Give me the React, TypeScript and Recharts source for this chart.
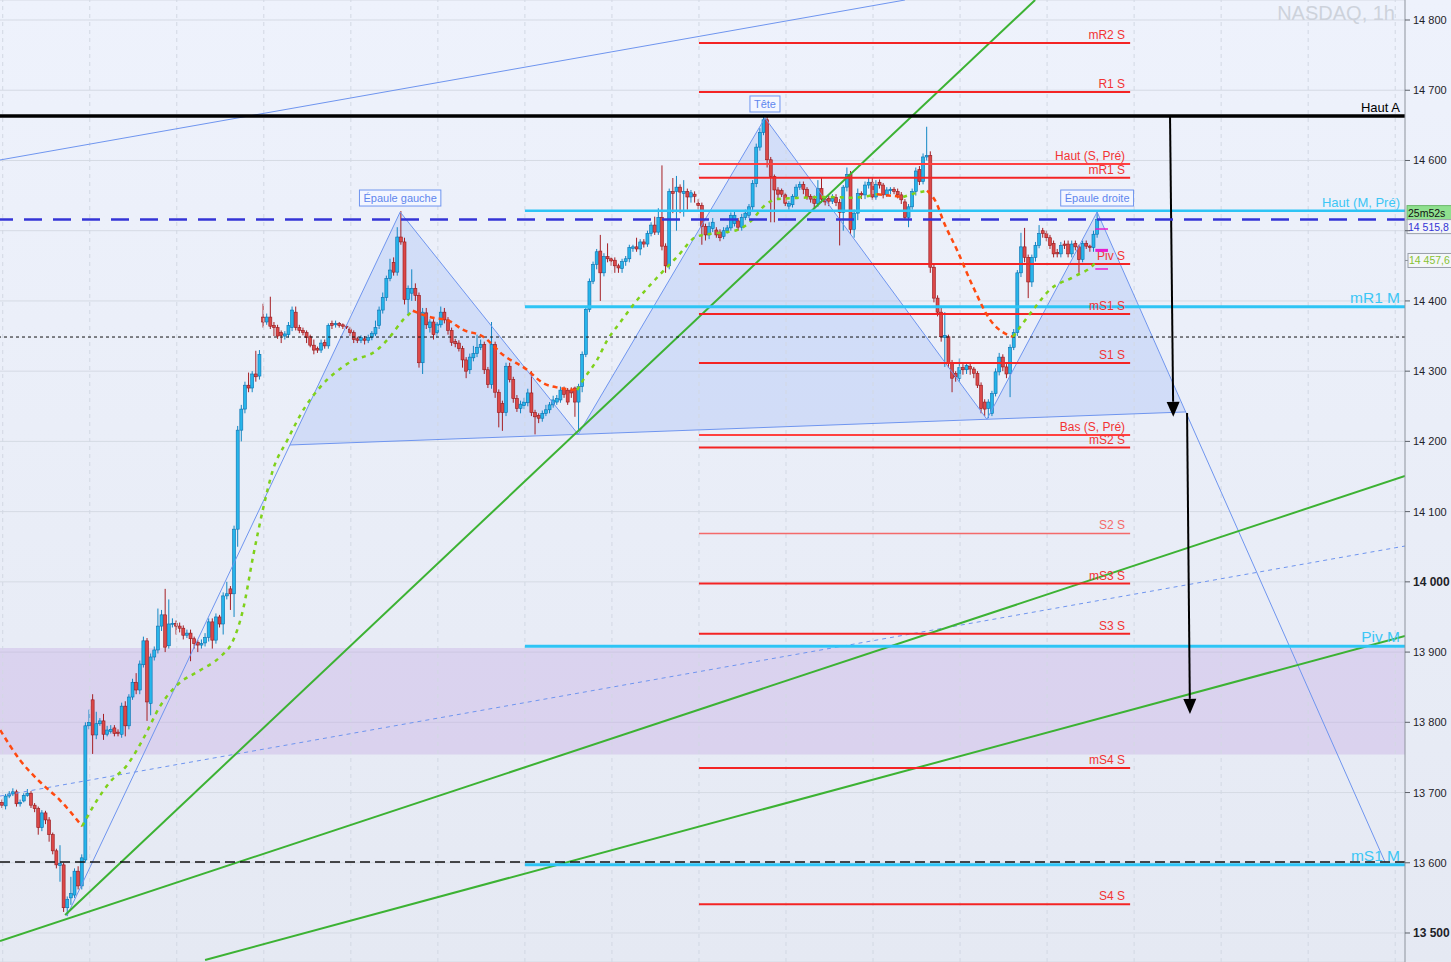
import React from "react";
import {
  ComposedChart,
  Bar,
  Line,
  Area,
  XAxis,
  YAxis,
  CartesianGrid,
  ReferenceLine,
  ReferenceArea,
  ReferenceDot,
} from "recharts";

// NASDAQ 1h candles, [open, high, low, close]
const candlesA = [
  [13686, 13690, 13678, 13682], [13681, 13698, 13676, 13695], [13695, 13702, 13692, 13698],
  [13698, 13706, 13695, 13701], [13701, 13704, 13680, 13684], [13684, 13690, 13680, 13686],
  [13688, 13699, 13686, 13696], [13696, 13705, 13694, 13699], [13699, 13702, 13678, 13682],
  [13682, 13685, 13672, 13677], [13677, 13680, 13640, 13650], [13650, 13675, 13645, 13671],
  [13671, 13674, 13655, 13661], [13661, 13665, 13630, 13640], [13640, 13643, 13612, 13617],
  [13617, 13620, 13592, 13597], [13596, 13625, 13573, 13599], [13597, 13600, 13530, 13536],
  [13536, 13552, 13524, 13548], [13550, 13580, 13540, 13556], [13554, 13592, 13550, 13588],
  [13588, 13595, 13562, 13567], [13567, 13612, 13562, 13607], [13604, 13800, 13600, 13795],
  [13795, 13818, 13790, 13800], [13832, 13840, 13755, 13782], [13782, 13815, 13776, 13798],
  [13798, 13806, 13795, 13802], [13802, 13812, 13775, 13783], [13783, 13795, 13780, 13789],
  [13787, 13796, 13784, 13790], [13792, 13796, 13780, 13784], [13786, 13790, 13780, 13784],
  [13783, 13828, 13778, 13823], [13823, 13830, 13780, 13795], [13795, 13840, 13790, 13836],
  [13836, 13862, 13832, 13857], [13857, 13870, 13840, 13846], [13846, 13888, 13840, 13883],
  [13882, 13922, 13878, 13916], [13916, 13920, 13802, 13829], [13827, 13898, 13810, 13893],
  [13893, 13908, 13888, 13903], [13903, 13962, 13898, 13937], [13937, 13960, 13930, 13953],
  [13953, 13990, 13900, 13907], [13909, 13975, 13905, 13940], [13940, 13948, 13935, 13941],
  [13941, 13945, 13925, 13937], [13937, 13942, 13928, 13934], [13934, 13938, 13918, 13924],
  [13924, 13932, 13920, 13927], [13927, 13932, 13887, 13919], [13919, 13922, 13905, 13912],
  [13914, 13917, 13900, 13910], [13910, 13918, 13905, 13912], [13913, 13927, 13908, 13921],
  [13921, 13948, 13915, 13943], [13943, 13948, 13905, 13917], [13917, 13955, 13912, 13950],
  [13950, 13953, 13935, 13940], [13940, 13985, 13925, 13980], [13980, 14000, 13975, 13983],
  [13990, 13994, 13960, 13983], [13983, 14080, 13950, 14075], [14075, 14222, 14050, 14216],
  [14216, 14252, 14200, 14246], [14246, 14285, 14240, 14280], [14280, 14298, 14270, 14276],
  [14276, 14300, 14270, 14296], [14296, 14329, 14285, 14292], [14293, 14330, 14288, 14324],
];

const candlesB = [
  [14377, 14396, 14362, 14370], [14370, 14382, 14366, 14377], [14377, 14406, 14360, 14364],
  [14365, 14370, 14350, 14362], [14362, 14366, 14346, 14350], [14355, 14358, 14340, 14351],
  [14350, 14357, 14345, 14353], [14352, 14370, 14348, 14365], [14362, 14392, 14357, 14387],
  [14384, 14392, 14358, 14362], [14362, 14366, 14354, 14358], [14358, 14362, 14351, 14355],
  [14355, 14358, 14340, 14348], [14349, 14352, 14334, 14337], [14337, 14345, 14324, 14330],
  [14332, 14335, 14326, 14330], [14330, 14345, 14326, 14340], [14341, 14345, 14332, 14336],
  [14336, 14368, 14332, 14365], [14368, 14372, 14360, 14365], [14366, 14372, 14362, 14368],
  [14368, 14370, 14362, 14365], [14366, 14368, 14360, 14364], [14364, 14366, 14360, 14363],
  [14360, 14363, 14350, 14355], [14355, 14358, 14340, 14345], [14346, 14349, 14340, 14344],
  [14344, 14351, 14340, 14348], [14346, 14350, 14338, 14344], [14344, 14352, 14340, 14348],
  [14348, 14357, 14344, 14354], [14353, 14372, 14350, 14362], [14365, 14392, 14360, 14387],
  [14387, 14412, 14382, 14405], [14405, 14436, 14400, 14432], [14432, 14460, 14428, 14444],
  [14455, 14462, 14436, 14441], [14441, 14505, 14436, 14491], [14491, 14528, 14480, 14484],
  [14484, 14490, 14395, 14402], [14402, 14422, 14380, 14418], [14411, 14445, 14400, 14418],
  [14418, 14425, 14400, 14408], [14408, 14412, 14305, 14312], [14312, 14390, 14296, 14384],
  [14383, 14390, 14360, 14366], [14362, 14374, 14355, 14370], [14370, 14374, 14345, 14352],
  [14355, 14370, 14348, 14367], [14366, 14392, 14362, 14384], [14384, 14390, 14368, 14373],
  [14373, 14377, 14352, 14358], [14358, 14362, 14336, 14341], [14342, 14346, 14334, 14339],
  [14340, 14344, 14328, 14332], [14332, 14336, 14305, 14316], [14316, 14320, 14290, 14300],
  [14302, 14325, 14296, 14320], [14319, 14336, 14314, 14325], [14325, 14352, 14320, 14334],
  [14334, 14345, 14330, 14338], [14338, 14342, 14296, 14302], [14302, 14306, 14276, 14281],
  [14281, 14370, 14275, 14338], [14338, 14342, 14262, 14270], [14270, 14274, 14220, 14241],
  [14254, 14258, 14215, 14241], [14241, 14312, 14236, 14307], [14307, 14312, 14284, 14288],
  [14288, 14292, 14255, 14261], [14261, 14266, 14242, 14247], [14247, 14258, 14240, 14253],
  [14251, 14262, 14246, 14256], [14255, 14275, 14250, 14269], [14269, 14300, 14236, 14241],
  [14241, 14245, 14210, 14235], [14237, 14240, 14226, 14233], [14233, 14244, 14228, 14240],
  [14240, 14252, 14236, 14245], [14245, 14256, 14240, 14252], [14252, 14265, 14248, 14259],
  [14256, 14266, 14252, 14261], [14259, 14278, 14255, 14273], [14274, 14278, 14262, 14267],
  [14273, 14276, 14252, 14256], [14273, 14277, 14262, 14269], [14276, 14278, 14235, 14256],
  [14256, 14282, 14214, 14278], [14278, 14328, 14270, 14324], [14324, 14392, 14320, 14388],
  [14388, 14432, 14384, 14428], [14428, 14456, 14424, 14452], [14452, 14474, 14445, 14470],
  [14471, 14494, 14400, 14440], [14440, 14468, 14435, 14463], [14463, 14482, 14455, 14460],
  [14460, 14462, 14450, 14457], [14458, 14462, 14440, 14450], [14450, 14453, 14440, 14447],
  [14446, 14460, 14440, 14456], [14456, 14464, 14450, 14460], [14460, 14480, 14455, 14476],
  [14475, 14480, 14470, 14477], [14477, 14490, 14470, 14474], [14474, 14488, 14465, 14484],
  [14484, 14488, 14476, 14481], [14481, 14500, 14477, 14496], [14496, 14512, 14492, 14508],
  [14508, 14520, 14494, 14498], [14498, 14532, 14494, 14519], [14519, 14593, 14472, 14478],
  [14478, 14482, 14440, 14450], [14450, 14560, 14445, 14556], [14556, 14575, 14525, 14553],
  [14556, 14578, 14500, 14562], [14562, 14566, 14525, 14555], [14553, 14572, 14520, 14556],
  [14556, 14560, 14530, 14548], [14548, 14558, 14540, 14554], [14552, 14556, 14540, 14549],
  [14539, 14545, 14530, 14536], [14536, 14540, 14480, 14506], [14506, 14510, 14486, 14494],
  [14494, 14512, 14488, 14506], [14503, 14518, 14498, 14512], [14501, 14505, 14490, 14494],
  [14498, 14502, 14485, 14490], [14492, 14505, 14488, 14500], [14500, 14508, 14496, 14504],
  [14504, 14526, 14500, 14522], [14510, 14528, 14506, 14522], [14514, 14518, 14500, 14505],
  [14505, 14524, 14500, 14519], [14519, 14530, 14515, 14525], [14522, 14538, 14518, 14534],
  [14534, 14572, 14528, 14567], [14567, 14624, 14562, 14619], [14619, 14646, 14614, 14640],
  [14640, 14665, 14636, 14658], [14658, 14662, 14590, 14601], [14601, 14605, 14512, 14577],
  [14577, 14580, 14512, 14558], [14558, 14562, 14546, 14552], [14557, 14560, 14548, 14552],
  [14551, 14554, 14535, 14539], [14535, 14542, 14530, 14539], [14537, 14552, 14533, 14549],
  [14549, 14566, 14545, 14562], [14562, 14570, 14558, 14566], [14566, 14570, 14552, 14559],
  [14559, 14562, 14544, 14548], [14549, 14552, 14540, 14545], [14545, 14550, 14532, 14539],
  [14539, 14572, 14534, 14560], [14560, 14576, 14540, 14545], [14545, 14549, 14536, 14541],
  [14546, 14550, 14535, 14542], [14542, 14552, 14538, 14546], [14547, 14552, 14535, 14540],
  [14540, 14545, 14479, 14526], [14526, 14565, 14500, 14562], [14562, 14590, 14556, 14580],
  [14580, 14585, 14495, 14502], [14502, 14530, 14490, 14525], [14525, 14560, 14515, 14553],
  [14553, 14556, 14545, 14551], [14551, 14570, 14545, 14565], [14565, 14575, 14560, 14569],
  [14569, 14575, 14544, 14548], [14548, 14572, 14544, 14566], [14569, 14573, 14560, 14565],
  [14565, 14568, 14546, 14551], [14551, 14562, 14548, 14558], [14557, 14562, 14552, 14559],
  [14559, 14562, 14552, 14556], [14556, 14560, 14546, 14551], [14551, 14555, 14538, 14544],
  [14541, 14545, 14515, 14519], [14519, 14538, 14505, 14534], [14534, 14560, 14530, 14556],
  [14556, 14590, 14550, 14585], [14587, 14592, 14565, 14570], [14570, 14610, 14566, 14605],
  [14605, 14648, 14600, 14607], [14607, 14613, 14440, 14448], [14448, 14452, 14398, 14404],
  [14404, 14408, 14378, 14384], [14384, 14390, 14342, 14349], [14348, 14384, 14306, 14351],
  [14349, 14352, 14305, 14312], [14312, 14316, 14270, 14290], [14297, 14300, 14285, 14292],
  [14290, 14318, 14285, 14305], [14305, 14310, 14295, 14302], [14302, 14312, 14296, 14308],
  [14307, 14312, 14295, 14303], [14303, 14306, 14290, 14297], [14297, 14300, 14276, 14280],
  [14280, 14284, 14240, 14247], [14256, 14260, 14236, 14246], [14247, 14260, 14233, 14256],
  [14240, 14272, 14236, 14268], [14268, 14304, 14264, 14299], [14299, 14326, 14294, 14320],
  [14320, 14324, 14300, 14306], [14306, 14310, 14290, 14296], [14297, 14338, 14263, 14334],
  [14334, 14360, 14330, 14355], [14355, 14444, 14350, 14440], [14440, 14497, 14434, 14477],
  [14477, 14504, 14455, 14462], [14462, 14466, 14404, 14427], [14427, 14466, 14420, 14462],
  [14462, 14484, 14456, 14479], [14479, 14508, 14475, 14496], [14500, 14504, 14490, 14496],
  [14496, 14500, 14485, 14490], [14490, 14494, 14474, 14479], [14482, 14486, 14462, 14467],
  [14469, 14474, 14462, 14467], [14467, 14484, 14462, 14479], [14481, 14486, 14474, 14479],
  [14481, 14486, 14462, 14467], [14467, 14486, 14462, 14481], [14482, 14486, 14472, 14477],
  [14477, 14480, 14440, 14459], [14459, 14486, 14455, 14482], [14482, 14486, 14474, 14478],
  [14478, 14480, 14470, 14476], [14476, 14500, 14470, 14495], [14495, 14528, 14490, 14515.8],
];

// moving average, split by direction (falling = red dashes, rising = green dots)
const maFalling = [
  [[-0.5, 13789], [5, 13746], [10.5, 13715], [16, 13689], [22.1, 13652]],
  [[113.3, 14386], [118.9, 14376], [122.7, 14373], [127.1, 14359], [132.7, 14349], [138.2, 14323],
    [144.8, 14302], [149.2, 14283], [153.9, 14276], [158.6, 14273]],
  [[241.3, 14552], [248.5, 14548]],
  [[255.1, 14557], [257.9, 14537], [259.5, 14515], [263.4, 14472], [267.8, 14420], [272.5, 14373],
    [277.2, 14352], [278.8, 14349]],
];
const maRising = [
  [[22.1, 13652], [26.2, 13689], [29.8, 13715], [34.5, 13739], [38.9, 13776], [43.6, 13823],
    [48.3, 13853], [54.6, 13874], [60.1, 13893], [63.7, 13916], [66.5, 13961], [69.2, 14035],
    [72, 14104], [74.7, 14159], [78.6, 14201], [83.6, 14249], [87.7, 14277], [96, 14313],
    [103.4, 14330], [107, 14349], [110.6, 14373], [113.3, 14386]],
  [[158.6, 14273], [160.2, 14287], [164.1, 14316], [166.9, 14344], [170.4, 14369], [175.1, 14401],
    [180.6, 14433], [186.2, 14463], [191.7, 14492], [198, 14497], [202.7, 14501], [206.8, 14515],
    [209.9, 14534], [213.7, 14545], [220.9, 14547], [227.5, 14548], [234.7, 14547], [241.3, 14552]],
  [[248.5, 14548], [252.3, 14554], [255.1, 14557]],
  [[278.8, 14349], [284.3, 14387], [289, 14416], [295.4, 14434], [300.9, 14451], [302, 14457.6]],
];

// head & shoulders pivots [bar, price]
const hsPivots = [
  [79.4, 14194.9], [109.8, 14526.6], [158.9, 14210], [210.4, 14660.5],
  [271.6, 14231.5], [302, 14526.6], [326.3, 14241.9],
];
const hsLabels = [
  ["Épaule gauche", 109.8, 14526.6],
  ["Tête", 210.4, 14660.5],
  ["Épaule droite", 302, 14526.6],
];
const patternLines = [
  [[17.9, 13524.2], [109.8, 14526.6]],
  [[109.8, 14526.6], [158.9, 14210]],
  [[158.9, 14210], [210.4, 14660.5]],
  [[210.4, 14660.5], [271.6, 14231.5]],
  [[271.6, 14231.5], [302, 14526.6]],
  [[302, 14526.6], [381.4, 13601]],
  [[79.4, 14194.9], [326.3, 14241.9]],
  [[-0.55, 14600.7], [249, 14828.5]],
];
const dottedTrend = [[-0.55, 13695], [386.9, 14051]];
const greenTrends = [
  [[17.4, 13525.6], [284.9, 14828.5]],
  [[-0.55, 13488.6], [386.9, 14150.7]],
  [[56, 13461.6], [386.9, 13922.9]],
];
const targetArrows = [
  [[322.1, 14663.3], [323, 14235]],
  [[326.8, 14240.5], [327.6, 13812]],
];

const weeklyLevels = [
  ["mR2 S", 14767.3], ["R1 S", 14697.5], ["Haut (S, Pré)", 14595], ["mR1 S", 14575.5],
  ["Piv S", 14452.6], ["mS1 S", 14381.4], ["S1 S", 14311.6], ["Bas (S, Pré)", 14209],
  ["mS2 S", 14191.3], ["S2 S", 14068.9], ["mS3 S", 13997.5], ["S3 S", 13926],
  ["mS4 S", 13734.8], ["S4 S", 13540.9],
];
const monthlyLevels = [
  ["Haut (M, Pré)", 14528.5], ["mR1 M", 14391.6], ["Piv M", 13908.2], ["mS1 M", 13597],
];
const highA = 14663.5;
const lastPrice = 14515.8;
const maLast = 14457.6;
const countdown = "25m52s";
const dottedLevel = 14348.6;
const dashedLevel = 13601.1;
const zone = [13754.2, 13905.8];
const quoteMarks = [14502.4, 14472, 14445.5];

const priceTicks = [13500, 13600, 13700, 13800, 13900, 14000, 14100, 14200, 14300, 14400, 14500, 14600, 14700, 14800];
const dayBreaks = [0.2, 24.2, 48.2, 72.2, 96.2, 120.2, 144.2, 168.2, 192.2, 216.2, 240.2, 264.2, 288.2, 312.2, 336.2, 360.2, 384.2];
const weekFrom = 192.2;
const weekTo = 311.1;
const monthFrom = 144.2;
const X_DOMAIN = [-0.55, 386.9];
const Y_DOMAIN = [13458.7, 14828.5];

const FONT = "'Liberation Sans', Arial, sans-serif";

const candles = [...candlesA, ...candlesB].map(([o, h, l, c], i) => ({ i, o, h, l, c }));

const neckA = hsPivots[0];
const neckB = hsPivots[hsPivots.length - 1];
const neckAt = (i: number) => neckA[1] + ((i - neckA[0]) * (neckB[1] - neckA[1])) / (neckB[0] - neckA[0]);
const hsBand = hsPivots.map(([i, p], k) => ({ i, band: k % 2 === 0 ? [p, p] : [neckAt(i), p] }));

const fmtPrice = (v: number) => String(v).replace(/\B(?=(\d{3})+(?!\d))/g, " ");
const fmtQuote = (v: number) => v.toFixed(1).replace(".", ",").replace(/\B(?=(\d{3})+(?!\d))/, " ");

let measureCtx: CanvasRenderingContext2D | null = null;
const textWidth = (text: string, font: string) => {
  if (!measureCtx) measureCtx = document.createElement("canvas").getContext("2d");
  if (!measureCtx) return text.length * 5.6;
  measureCtx.font = font;
  return measureCtx.measureText(text).width;
};

const Candle = (props: any) => {
  const { x, y, width, height, payload } = props;
  const { o, h, l, c } = payload;
  const cx = x + width / 2;
  const span = h - l || 1;
  const py = (v: number) => y + ((h - v) / span) * height;
  const up = c >= o;
  const top = py(Math.max(o, c));
  const bot = py(Math.min(o, c));
  return (
    <g>
      <line x1={cx} x2={cx} y1={y} y2={y + height} stroke={up ? "#1287c4" : "#a51f24"} strokeWidth={1} />
      <rect
        x={cx - 1.5}
        y={top}
        width={3}
        height={Math.max(bot - top, 1)}
        fill={up ? "#27b5ea" : "#dc4848"}
        stroke={up ? "#0b6fae" : "#951a1e"}
        strokeWidth={0.6}
      />
    </g>
  );
};

const PriceTick = (p: any) => {
  const v = p.payload.value;
  if (v === 14500) return <g />;
  const bold = v === 14000 || v === 13500;
  return (
    <text x={p.x} y={p.y} dy={4} fontSize={bold ? 12 : 11} fontWeight={bold ? 700 : 400} fill="#1e2228" fontFamily={FONT}>
      {fmtPrice(v)}
    </text>
  );
};

const levelShape = (text: string, color: string, width: number, textColor: string, size: number, pad: number) =>
  (p: any) => {
    const xr = Math.max(p.x1, p.x2);
    return (
      <g clipPath={p.clipPath}>
        <line x1={p.x1} y1={p.y1} x2={p.x2} y2={p.y2} stroke={color} strokeWidth={width} />
        <text x={xr - pad} y={p.y1 - 4} textAnchor="end" fill={textColor} fontSize={size} fontFamily={FONT}>
          {text}
        </text>
      </g>
    );
  };

const arrowShape = (p: any) => {
  const { x1, y1, x2, y2 } = p;
  const ang = Math.atan2(y2 - y1, x2 - x1);
  const len = 15;
  const half = 6.5;
  const bx = x2 - len * Math.cos(ang);
  const by = y2 - len * Math.sin(ang);
  const nx = -Math.sin(ang) * half;
  const ny = Math.cos(ang) * half;
  return (
    <g>
      <line x1={x1} y1={y1} x2={bx} y2={by} stroke="#000" strokeWidth={2} />
      <polygon points={`${x2},${y2} ${bx + nx},${by + ny} ${bx - nx},${by - ny}`} fill="#000" />
    </g>
  );
};

const lastPriceShape = (p: any) => {
  const xr = Math.max(p.x1, p.x2);
  return (
    <g>
      <line x1={p.x1} y1={p.y1} x2={p.x2} y2={p.y2} stroke="#3434d6" strokeWidth={2.5} strokeDasharray="18 11" />
      <rect x={xr + 2} y={p.y1 - 14} width={52} height={14} fill="#8fe08f" stroke="#6cb86c" />
      <text x={xr + 3} y={p.y1 - 3} fontSize={10.5} fill="#111" fontFamily={FONT}>{countdown}</text>
      <rect x={xr + 2} y={p.y1} width={52} height={14} fill="#f2f4f9" stroke="#9aa0aa" />
      <text x={xr + 3} y={p.y1 + 11} fontSize={10.5} fill="#3434d6" fontFamily={FONT}>
        {fmtQuote(lastPrice)}
      </text>
    </g>
  );
};

const maTagShape = (p: any) => {
  const xr = Math.max(p.x1, p.x2);
  return (
    <g>
      <line x1={xr} y1={p.y1} x2={xr + 4} y2={p.y1} stroke="#8a9099" />
      <rect x={xr + 3} y={p.y1 - 7} width={52} height={14} fill="#f4f6fa" stroke="#9aa0aa" />
      <text x={xr + 4} y={p.y1 + 4} fontSize={10.5} fill="#86c232" fontFamily={FONT}>
        {fmtQuote(maLast)}
      </text>
    </g>
  );
};

const hsLabelShape = (text: string) => (p: any) => {
  const w = textWidth(text, `11px ${FONT}`) + 8;
  const cy = p.cy - 14;
  return (
    <g>
      <rect x={p.cx - w / 2} y={cy - 8} width={w} height={16} fill="#f3f6ff" stroke="#6f95ef" strokeWidth={1} />
      <text x={p.cx} y={cy + 4} textAnchor="middle" fontSize={11} fill="#5f86ee" fontFamily={FONT}>
        {text}
      </text>
    </g>
  );
};

const seg = (pts: number[][]) => pts.map(([x, y]) => ({ x, y }));

export default function App() {
  return (
    <div
      style={{
        position: "absolute",
        left: 0,
        top: 0,
        width: 1451,
        height: 962,
        background: "linear-gradient(#eef2fc, #e5e9f3)",
        overflow: "hidden",
        fontFamily: FONT,
      }}
    >
      <ComposedChart width={1451} height={962} data={candles} margin={{ top: 0, right: 0, bottom: 0, left: 0 }}>
        <CartesianGrid vertical={false} stroke="#d5dae4" />
        <XAxis type="number" dataKey="i" domain={X_DOMAIN} allowDataOverflow hide />
        <YAxis
          orientation="right"
          width={46}
          domain={Y_DOMAIN}
          allowDataOverflow
          ticks={priceTicks}
          interval={0}
          tick={<PriceTick />}
          tickSize={5}
          tickMargin={3}
          axisLine={{ stroke: "#8d939c" }}
          tickLine={{ stroke: "#5c6169" }}
        />
        {dayBreaks.map((d) => (
          <ReferenceLine key={`d${d}`} x={d} stroke="#d2d8e3" strokeDasharray="4 4" />
        ))}
        <ReferenceArea y1={zone[0]} y2={zone[1]} fill="#bea0e1" fillOpacity={0.33} stroke="none" ifOverflow="hidden" />

        <Area
          data={hsBand}
          dataKey="band"
          type="linear"
          fill="#9fbaf5"
          fillOpacity={0.33}
          stroke="none"
          isAnimationActive={false}
          dot={false}
          activeDot={false}
        />
        {patternLines.map((s, k) => (
          <ReferenceLine key={`p${k}`} segment={seg(s)} stroke="#6f95ef" strokeWidth={1} ifOverflow="hidden" />
        ))}
        <ReferenceLine segment={seg(dottedTrend)} stroke="#6f95ef" strokeWidth={1} strokeDasharray="4 4" ifOverflow="hidden" />
        {greenTrends.map((s, k) => (
          <ReferenceLine key={`g${k}`} segment={seg(s)} stroke="#3cb233" strokeWidth={2} ifOverflow="hidden" />
        ))}

        <ReferenceLine y={dottedLevel} stroke="#111" strokeWidth={1} strokeDasharray="3 3" />
        <ReferenceLine y={dashedLevel} stroke="#111" strokeWidth={1.5} strokeDasharray="10 5" />

        {monthlyLevels.map(([name, v], k) => (
          <ReferenceLine
            key={`m${name}`}
            segment={[{ x: monthFrom, y: v as number }, { x: X_DOMAIN[1], y: v as number }]}
            shape={levelShape(name as string, "#2ec4f5", k === 0 ? 2.5 : 3, "#3cc6f5", k === 0 ? 13 : 15.5, 5)}
            ifOverflow="visible"
          />
        ))}
        {weeklyLevels.map(([name, v]) => {
          const pre = (name as string).includes("Pré");
          const soft = name === "S2 S";
          return (
            <ReferenceLine
              key={`w${name}`}
              segment={[{ x: weekFrom, y: v as number }, { x: weekTo, y: v as number }]}
              shape={levelShape(
                name as string,
                soft ? "#f46a6a" : pre ? "#ff4040" : "#f42424",
                soft ? 1.5 : 2,
                soft ? "#f46a6a" : "#f23434",
                12,
                5
              )}
              ifOverflow="visible"
            />
          );
        })}
        <ReferenceLine
          segment={[{ x: X_DOMAIN[0], y: highA }, { x: X_DOMAIN[1], y: highA }]}
          shape={levelShape("Haut A", "#000", 3.5, "#000", 13, 5)}
          ifOverflow="visible"
        />

        <Bar dataKey={(d: any) => [d.l, d.h]} barSize={3} shape={<Candle />} isAnimationActive={false} />

        {maFalling.map((pts, k) => (
          <Line
            key={`mf${k}`}
            data={pts.map(([i, ma]) => ({ i, ma }))}
            dataKey="ma"
            type="monotone"
            stroke="#ff4a10"
            strokeWidth={2.5}
            strokeDasharray="5 4"
            dot={false}
            activeDot={false}
            isAnimationActive={false}
          />
        ))}
        {maRising.map((pts, k) => (
          <Line
            key={`mr${k}`}
            data={pts.map(([i, ma]) => ({ i, ma }))}
            dataKey="ma"
            type="monotone"
            stroke="#7fd11b"
            strokeWidth={2.5}
            strokeDasharray="4 5"
            dot={false}
            activeDot={false}
            isAnimationActive={false}
          />
        ))}

        {quoteMarks.map((v, k) => (
          <ReferenceLine
            key={`q${k}`}
            segment={[{ x: 301.5, y: v }, { x: 305, y: v }]}
            stroke="#e81ccf"
            strokeWidth={k === 1 ? 3 : 1.5}
          />
        ))}

        {targetArrows.map((s, k) => (
          <ReferenceLine key={`a${k}`} segment={seg(s)} shape={arrowShape} ifOverflow="visible" />
        ))}

        {hsLabels.map(([text, i, p]) => (
          <ReferenceDot key={text as string} x={i as number} y={p as number} r={0} shape={hsLabelShape(text as string)} />
        ))}

        <ReferenceLine y={lastPrice} shape={lastPriceShape} />
        <ReferenceLine y={maLast} shape={maTagShape} />
      </ComposedChart>
      <div
        style={{
          position: "absolute",
          right: 56,
          top: 3,
          fontSize: 20,
          lineHeight: "20px",
          color: "#cdd2db",
          fontFamily: FONT,
        }}
      >
        NASDAQ, 1h
      </div>
    </div>
  );
}
